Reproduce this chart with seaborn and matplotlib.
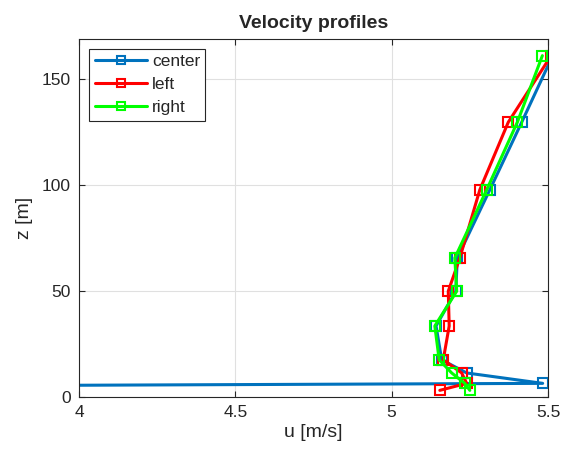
import numpy as np
import pandas as pd
import matplotlib
matplotlib.use("Agg")
import matplotlib.pyplot as plt
from matplotlib.lines import Line2D
import seaborn as sns

z = [3, 6.3, 11.2, 17.4, 33.4, 49.8, 65.5, 97.7, 129.6, 161]
u_center = [0.0, 5.483, 5.240, 5.160, 5.142, 5.205, 5.210, 5.314, 5.416, 5.515]
u_left = [5.154, 5.240, 5.224, 5.165, 5.184, 5.181, 5.218, 5.282, 5.373, 5.510]
u_right = [5.250, 5.234, 5.192, 5.152, 5.138, 5.208, 5.202, 5.304, 5.402, 5.482]
series = ["center", "left", "right"]
colors = ["#0072BD", "#FF0000", "#00FF00"]

frames = []
for name, u in zip(series, [u_center, u_left, u_right]):
    frames.append(pd.DataFrame({"u": u, "z": z, "profile": name}))
df = pd.concat(frames, ignore_index=True)

sns.set_style("white")
plt.rcParams["font.family"] = ["Liberation Sans", "DejaVu Sans"]

fig = plt.figure(figsize=(5.62, 4.59), dpi=100)
ax = fig.add_axes([79/562, 1-396.7/459, (548-79)/562, (396.7-38.7)/459])

sns.lineplot(data=df, x="u", y="z", hue="profile", palette=colors,
             hue_order=series, sort=False, estimator=None, orient="y",
             marker="s", markersize=7, markerfacecolor="none",
             markeredgewidth=1.5, linewidth=2.2, ax=ax, legend=False)
for line, c in zip(ax.get_lines(), colors):
    line.set_markeredgecolor(c)

ax.set_xlim(4, 5.5)
ax.set_ylim(0, 169)
ax.set_xticks([4, 4.5, 5, 5.5])
ax.set_xticklabels(["4", "4.5", "5", "5.5"])
ax.set_yticks([0, 50, 100, 150])
ax.grid(True, color="#e0e0e0", linewidth=0.8)
ax.set_axisbelow(True)
for s in ax.spines.values():
    s.set_color("#262626")
    s.set_linewidth(0.8)
ax.tick_params(direction="in", length=4, width=0.8, color="#262626",
               labelsize=12.5, labelcolor="#262626", top=True, right=True,
               bottom=True, left=True, pad=6)
ax.set_xlabel("u [m/s]", fontsize=14, color="#262626", labelpad=3)
ax.set_ylabel("z [m]", fontsize=14, color="#262626", labelpad=6)
ax.set_title("Velocity profiles", fontsize=14, fontweight="bold", pad=8)

handles = [Line2D([], [], color=c, linewidth=2.2, marker="s", markersize=6,
                  markerfacecolor="none", markeredgecolor=c, markeredgewidth=1.5)
           for c in colors]
leg = ax.legend(handles, series, loc="upper left", fontsize=12.5, frameon=True,
                fancybox=False, edgecolor="#262626", handlelength=3.0,
                borderaxespad=0.6, labelspacing=0.45, handletextpad=0.3,
                borderpad=0.3, framealpha=1)
leg.get_frame().set_linewidth(0.8)

fig.savefig("out.png", dpi=100)
